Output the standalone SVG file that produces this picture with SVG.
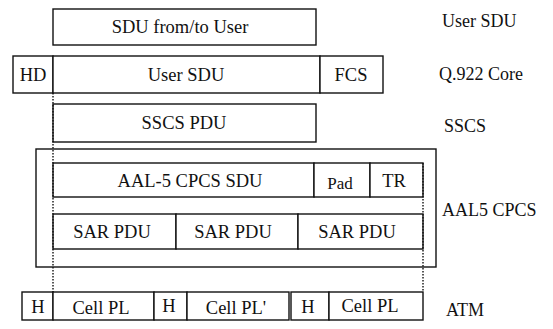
<svg xmlns="http://www.w3.org/2000/svg" width="553" height="329" viewBox="0 0 553 329">
<style>
rect{fill:#fff;stroke:#111;stroke-width:1.4}
text{font-family:'Liberation Serif','DejaVu Serif',serif;font-size:18.5px;fill:#111;text-anchor:middle}
.lbl{text-anchor:start;font-size:18px}
.dot{stroke:#111;stroke-width:1.4;stroke-dasharray:1.5 1.5;fill:none}
</style>
<rect width="553" height="329" style="fill:#fff;stroke:none"/>
<g id="aal5">
<rect x="36" y="149" width="400" height="118"/>
</g>
<g id="user">
<rect x="53" y="9" width="263" height="36"/>
<text x="180" y="33">SDU from/to User</text>
</g>
<g id="q922">
<rect x="13" y="56" width="40" height="37"/>
<text x="33" y="81">HD</text>
<rect x="53" y="56" width="267" height="37"/>
<text x="186" y="81">User SDU</text>
<rect x="320" y="56" width="63" height="37"/>
<text x="351" y="81">FCS</text>
</g>
<g id="sscs">
<rect x="53" y="104" width="263" height="38"/>
<text x="184" y="129">SSCS PDU</text>
</g>
<g id="cpcs">
<rect x="53" y="163" width="261" height="34"/>
<text x="190" y="187">AAL-5 CPCS SDU</text>
<rect x="314" y="163" width="56" height="34"/>
<text x="340" y="189" style="font-size:17px">Pad</text>
<rect x="370" y="163" width="53" height="34"/>
<text x="394" y="187">TR</text>
</g>
<g id="sar">
<rect x="53" y="214" width="123" height="35"/>
<text x="112" y="238">SAR PDU</text>
<rect x="176" y="214" width="122" height="35"/>
<text x="233" y="238">SAR PDU</text>
<rect x="298" y="214" width="125" height="35"/>
<text x="357" y="238">SAR PDU</text>
</g>
<g id="atm">
<rect x="22" y="292" width="31" height="28"/>
<text x="38" y="313">H</text>
<rect x="53" y="292" width="101" height="28"/>
<text x="101" y="314">Cell PL</text>
<rect x="154" y="292" width="33" height="28"/>
<text x="169" y="312">H</text>
<rect x="187" y="292" width="102" height="28"/>
<text x="236" y="314">Cell PL'</text>
<rect x="291" y="292" width="38" height="28"/>
<text x="308" y="313">H</text>
<rect x="329" y="292" width="94" height="28"/>
<text x="370" y="312">Cell PL</text>
</g>
<g id="connectors">
<line class="dot" x1="53" y1="93" x2="53" y2="292"/>
<line class="dot" x1="423" y1="163" x2="423" y2="292"/>
</g>
<g id="labels">
<text class="lbl" x="442" y="27">User SDU</text>
<text class="lbl" x="439" y="80">Q.922 Core</text>
<text class="lbl" x="444" y="132">SSCS</text>
<text class="lbl" x="442" y="216">AAL5 CPCS</text>
<text class="lbl" x="446" y="316">ATM</text>
</g>
</svg>
